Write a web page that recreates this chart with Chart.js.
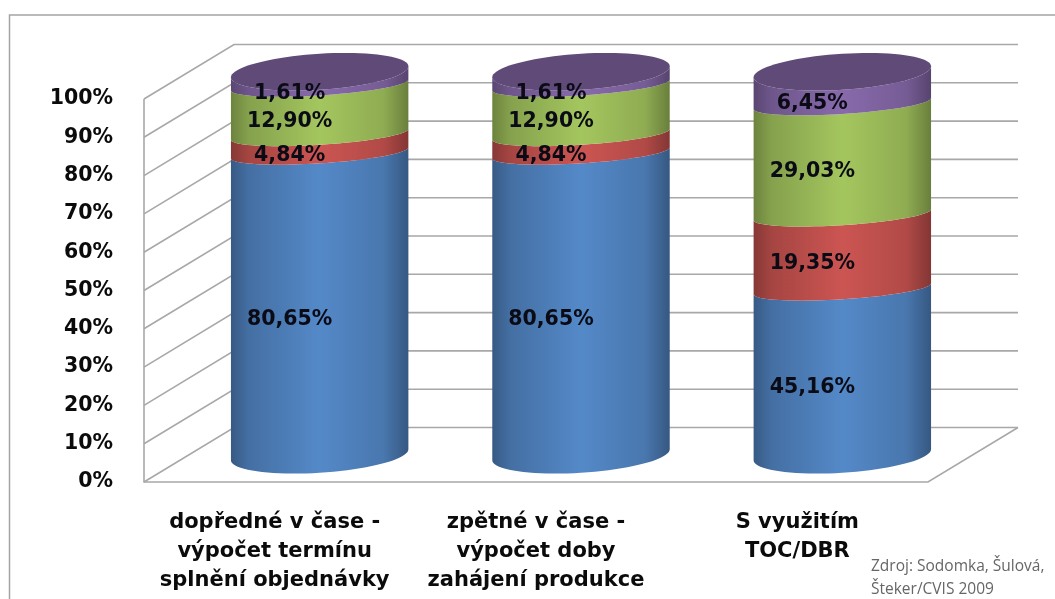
<!DOCTYPE html>
<html>
<head>
<meta charset="utf-8">
<style>
  html, body { margin: 0; padding: 0; background: #fff; }
  #wrap { width: 1055px; height: 599px; }
</style>
<script src="https://cdn.jsdelivr.net/npm/chart.js@4"></script>
</head>
<body>
<div id="wrap"><canvas id="chart" width="1055" height="599"></canvas></div>
<script>
const categories = [
  ["dopředné v čase -", "výpočet termínu", "splnění objednávky"],
  ["zpětné v čase -", "výpočet doby", "zahájení produkce"],
  ["S využitím", "TOC/DBR"]
];
const blueValues = [80.65, 80.65, 45.16];
const redValues = [4.84, 4.84, 19.35];
const greenValues = [12.90, 12.90, 29.03];
const purpleValues = [1.61, 1.61, 6.45];
const sourceLines = ["Zdroj: Sodomka, Šulová,", "Šteker/CVIS 2009"];

// how far the back wall sits behind the front plane of the plot
const depthX = 90;
const depthY = -54.5;
const gridColor = "#a8a8a8";

// inner seams are flatter than the cap and base and sit a bit lower
const seamDrop = 7;
const seamRy = 10.5;
const capRy = 18;

const mkDataset = (data, color) => ({ data, backgroundColor: color, borderWidth: 0 });

// multiply an rgb hex colour, used for the cylinder shading
const shade = (hex, f) => {
  const n = parseInt(hex.slice(1), 16);
  const c = [n >> 16, (n >> 8) & 255, n & 255].map(v => Math.min(255, Math.round(v * f)));
  return `rgb(${c[0]},${c[1]},${c[2]})`;
};

// tilted ellipse point, t in radians. front arc is t = PI..0
const ellipsePoint = (cx, cy, rx, ry, t) => ({
  x: cx + rx * Math.cos(t),
  y: cy + ry * Math.sin(t) - 5.5 * Math.cos(t)
});

const frontArc = (ctx, cx, cy, rx, ry, reverse) => {
  for (let i = 0; i <= 40; i++) {
    const k = reverse ? i / 40 : 1 - i / 40;
    const p = ellipsePoint(cx, cy, rx, ry, Math.PI * k);
    ctx.lineTo(p.x, p.y);
  }
};

const backdrop = {
  id: "backdrop",
  beforeDatasetsDraw(chart) {
    const { ctx, scales: { x, y } } = chart;
    const left = x.left, right = x.right, floor = y.bottom;
    ctx.save();

    // outer frame, only top and left are visible in the picture
    ctx.strokeStyle = "#a4a4a4";
    ctx.lineWidth = 1.5;
    ctx.beginPath();
    ctx.moveTo(9.5, 599);
    ctx.lineTo(9.5, 15);
    ctx.lineTo(1055, 15);
    ctx.stroke();

    ctx.strokeStyle = gridColor;
    ctx.lineWidth = 1.6;
    y.ticks.forEach(t => {
      const py = y.getPixelForValue(t.value);
      ctx.beginPath();
      ctx.moveTo(left, py);
      ctx.lineTo(left + depthX, py + depthY);
      ctx.lineTo(right + depthX, py + depthY);
      ctx.stroke();
    });

    ctx.beginPath();
    ctx.moveTo(left, y.top);
    ctx.lineTo(left, floor);
    ctx.lineTo(right, floor);
    ctx.lineTo(right + depthX, floor + depthY);
    ctx.stroke();
    ctx.restore();
  },
  // the plain rectangles are replaced by the cylinders below
  beforeDatasetDraw() {
    return false;
  },
  afterDatasetsDraw(chart) {
    const { ctx } = chart;
    const count = chart.data.datasets.length;
    ctx.save();

    chart.data.labels.forEach((_, i) => {
      for (let d = 0; d < count; d++) {
        const bar = chart.getDatasetMeta(d).data[i];
        const color = chart.data.datasets[d].backgroundColor;
        const isFirst = d === 0;
        const isLast = d === count - 1;
        const cx = bar.x + depthX / 2;
        const rx = bar.width / 2;
        const lower = bar.base + depthY / 2 + (isFirst ? 0 : seamDrop);
        const upper = bar.y + depthY / 2 + (isLast ? 0 : seamDrop);

        const grad = ctx.createLinearGradient(cx - rx, 0, cx + rx, 0);
        grad.addColorStop(0, shade(color, 0.7));
        grad.addColorStop(0.1, shade(color, 0.86));
        grad.addColorStop(0.5, shade(color, 1.06));
        grad.addColorStop(0.86, shade(color, 0.92));
        grad.addColorStop(1, shade(color, 0.68));

        ctx.fillStyle = grad;
        ctx.beginPath();
        frontArc(ctx, cx, lower, rx, isFirst ? capRy : seamRy, false);
        frontArc(ctx, cx, upper, rx, isLast ? capRy : seamRy, true);
        ctx.closePath();
        ctx.fill();

        if (isLast) {
          ctx.fillStyle = shade(color, 0.74);
          ctx.beginPath();
          for (let s = 0; s <= 80; s++) {
            const p = ellipsePoint(cx, upper, rx, capRy, (s / 80) * Math.PI * 2);
            ctx.lineTo(p.x, p.y);
          }
          ctx.closePath();
          ctx.fill();
        }
      }
    });

    // value labels sit a bit right of the front plane centre, like in the original
    ctx.fillStyle = "#0b0b16";
    ctx.font = "bold 20.5px 'DejaVu Sans'";
    ctx.textAlign = "center";
    ctx.textBaseline = "middle";
    chart.data.datasets.forEach((ds, d) => {
      chart.getDatasetMeta(d).data.forEach((bar, i) => {
        const label = ds.data[i].toFixed(2).replace(".", ",") + "%";
        ctx.fillText(label, bar.x + 15, (bar.y + bar.base) / 2 - 8);
      });
    });

    // source note
    ctx.fillStyle = "#666666";
    ctx.font = "15.5px 'Open Sans'";
    ctx.textAlign = "left";
    ctx.fillText(sourceLines[0], 871, 567);
    ctx.fillText(sourceLines[1], 871, 590);
    ctx.restore();
  }
};

new Chart(document.getElementById("chart"), {
  type: "bar",
  data: {
    labels: categories,
    datasets: [
      mkDataset(blueValues, "#4f81bd"),
      mkDataset(redValues, "#c0504d"),
      mkDataset(greenValues, "#9bbb59"),
      mkDataset(purpleValues, "#8064a2")
    ]
  },
  plugins: [backdrop],
  options: {
    responsive: false,
    animation: false,
    layout: { padding: { left: 0, right: 127, top: 99, bottom: 0 } },
    categoryPercentage: 0.679,
    barPercentage: 1,
    plugins: { legend: { display: false }, title: { display: false }, tooltip: { enabled: false } },
    scales: {
      x: {
        stacked: true,
        grid: { display: false },
        border: { display: false },
        afterFit: s => { s.height = 117; },
        ticks: {
          color: "#0b0b0b",
          maxRotation: 0,
          autoSkip: false,
          padding: 18,
          font: { family: "'DejaVu Sans'", size: 21, weight: "bold", lineHeight: 1.39 }
        }
      },
      y: {
        stacked: true,
        min: 0,
        max: 100,
        grid: { display: false },
        border: { display: false },
        afterFit: s => { s.width = 144; },
        ticks: {
          stepSize: 10,
          padding: 23,
          color: "#0b0b0b",
          font: { family: "'DejaVu Sans'", size: 20.5, weight: "bold" },
          callback: v => v + "%"
        }
      }
    }
  }
});
</script>
</body>
</html>
